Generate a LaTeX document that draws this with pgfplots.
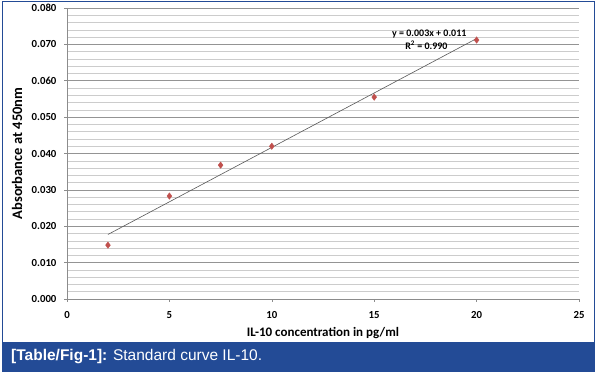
\documentclass[border=0pt]{standalone}
\usepackage{pgfplots}
\pgfplotsset{compat=1.18}
\usepackage{fontspec}
\setmainfont{Carlito}
\newfontfamily\capfont{Liberation Sans}
\definecolor{capblue}{RGB}{35,75,150}
\definecolor{ptred}{RGB}{192,80,77}
\begin{document}
\begin{tikzpicture}
\useasboundingbox (0,0) rectangle (597pt,374pt);
\fill[white] (0,0) rectangle (597pt,374pt);
\draw[capblue,line width=1pt] (2.5pt,20pt) rectangle (594pt,372.5pt);
\fill[capblue] (2pt,2pt) rectangle (594.5pt,32pt);
\node[anchor=west,text=white,font=\capfont\fontsize{15.5}{18}\selectfont,inner sep=0pt] at (11pt,17pt) {\textbf{[Table/Fig-1]:} Standard curve IL-10.};
\begin{axis}[
  at={(67pt,75pt)}, anchor=south west,
  scale only axis, width=512pt, height=291pt,
  xmin=0, xmax=25, ymin=0, ymax=0.08,
  xtick={0,5,10,15,20,25},
  ytick distance=0.01,
  minor y tick num=4,
  ymajorgrids, yminorgrids,
  major grid style={draw=black!42, line width=0.6pt},
  minor grid style={draw=black!20, line width=0.5pt},
  axis x line*=bottom, axis y line*=left,
  axis line style={draw=black!45, line width=0.6pt},
  every tick/.style={draw=black!45, line width=0.5pt},
  major tick length=3pt, minor tick length=0pt,
  tick align=outside,
  /pgf/number format/assume math mode=true,
  scaled y ticks=false,
  ticklabel style={font=\bfseries\fontsize{10.8}{12}\selectfont},
  xticklabel style={yshift=-6pt},
  yticklabel style={xshift=-4pt, /pgf/number format/fixed, /pgf/number format/fixed zerofill, /pgf/number format/precision=3},
  xlabel={IL-10 concentration in pg/ml},
  ylabel={Absorbance at 450nm},
  every axis x label/.style={at={(axis description cs:0.5,-0.1168)}, anchor=center, font=\bfseries\fontsize{13}{15}\selectfont},
  every axis y label/.style={at={(axis description cs:-0.0977,0.5)}, anchor=center, rotate=90, font=\bfseries\fontsize{14.5}{16}\selectfont},
  clip=false,
]
\addplot[draw=black!65, line width=0.6pt, mark=none] coordinates {(2,0.01774) (20,0.0716)};
\addplot[only marks, mark=diamond*, mark size=3.2pt, mark options={fill=ptred, draw=ptred}] coordinates {
(2,0.0148) (5,0.0283) (7.5,0.0368) (10,0.0420) (15,0.0555) (20,0.0712)
};
\node[font=\bfseries\fontsize{10}{11}\selectfont, inner sep=0pt] at (axis cs:17.69,0.0728) {y = 0.003x + 0.011};
\node[font=\bfseries\fontsize{10}{11}\selectfont, inner sep=0pt] at (axis cs:17.55,0.0698) {R\textsuperscript{2} = 0.990};
\end{axis}
\end{tikzpicture}
\end{document}
